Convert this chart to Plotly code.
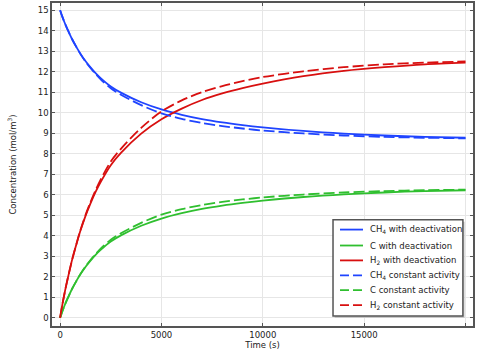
import plotly.graph_objects as go

# Time (s)
time_s = [0, 100, 200, 300, 400, 600, 800, 1000, 1250, 1500, 1750, 2000, 2500, 3000, 4000,
          5000, 6000, 7000, 8000, 9000, 10000, 12000, 14000, 16000, 18000, 20000]

# With deactivation (solid)
ch4_deact = [15, 14.71, 14.45, 14.21, 13.99, 13.57, 13.21, 12.88, 12.52, 12.21, 11.93, 11.69,
             11.28, 10.98, 10.51, 10.16, 9.90, 9.69, 9.53, 9.40, 9.29, 9.11, 8.98, 8.89, 8.82, 8.78]
c_deact = [0, 0.29, 0.55, 0.79, 1.01, 1.43, 1.79, 2.12, 2.48, 2.79, 3.07, 3.31,
           3.72, 4.02, 4.49, 4.84, 5.10, 5.31, 5.47, 5.60, 5.71, 5.89, 6.02, 6.11, 6.18, 6.22]
h2_deact = [0, 0.58, 1.10, 1.58, 2.02, 2.86, 3.58, 4.24, 4.96, 5.58, 6.14, 6.62,
            7.44, 8.04, 8.98, 9.68, 10.20, 10.62, 10.94, 11.20, 11.42, 11.78, 12.04, 12.22, 12.36, 12.44]

# Constant activity (dashed)
ch4_const = [15, 14.71, 14.45, 14.21, 13.99, 13.57, 13.21, 12.87, 12.50, 12.18, 11.89, 11.63,
             11.19, 10.88, 10.37, 9.97, 9.70, 9.50, 9.35, 9.23, 9.13, 8.99, 8.89, 8.82, 8.78, 8.75]
c_const = [0, 0.29, 0.55, 0.79, 1.01, 1.43, 1.79, 2.13, 2.50, 2.82, 3.11, 3.37,
           3.81, 4.12, 4.63, 5.03, 5.30, 5.50, 5.65, 5.77, 5.87, 6.01, 6.11, 6.18, 6.22, 6.25]
h2_const = [0, 0.58, 1.10, 1.58, 2.02, 2.86, 3.58, 4.26, 5.00, 5.64, 6.22, 6.74,
            7.62, 8.24, 9.26, 10.06, 10.60, 11.00, 11.30, 11.54, 11.74, 12.02, 12.22, 12.36, 12.44, 12.50]

x_ticks = [0, 5000, 10000, 15000]
x_ticktext = ["0", "5000", "10000", "15000"]
x_extra_grid = [20000]
y_ticks = list(range(0, 16))

legend_labels = [
    "CH<sub>4</sub> with deactivation",
    "C with deactivation",
    "H<sub>2</sub> with deactivation",
    "CH<sub>4</sub> constant activity",
    "C constant activity",
    "H<sub>2</sub> constant activity",
]

BLUE = "#1f44ff"
GREEN = "#2fbf2f"
RED = "#d80f0f"
FONT = "DejaVu Sans"
DASH = "11px,4px"

series = [
    (ch4_deact, BLUE, "solid"),
    (c_deact, GREEN, "solid"),
    (h2_deact, RED, "solid"),
    (ch4_const, BLUE, DASH),
    (c_const, GREEN, DASH),
    (h2_const, RED, DASH),
]

fig = go.Figure()
for label, (vals, color, dash) in zip(legend_labels, series):
    fig.add_trace(go.Scatter(
        x=time_s, y=vals, name=label, mode="lines", showlegend=False,
        line=dict(color=color, width=1.8, dash=dash, shape="spline", smoothing=0.8),
    ))

# ---- custom legend (paper coordinates) ----
box = dict(x0=0.6675, x1=0.976, y0=0.0308, y1=0.329)
shapes = [
    dict(type="rect", xref="paper", yref="paper",
         x0=box["x0"] + 0.004, x1=box["x1"] + 0.004, y0=box["y0"] - 0.006, y1=box["y1"] - 0.006,
         fillcolor="#c8c8c8", line=dict(width=0), layer="above"),
    dict(type="rect", xref="paper", yref="paper", **box,
         fillcolor="white", line=dict(color="#555555", width=1.5), layer="above"),
]
entry_y = [0.2985, 0.2492, 0.2031, 0.1569, 0.1108, 0.0646]
annotations = []
for label, (vals, color, dash), ey in zip(legend_labels, series, entry_y):
    shapes.append(dict(type="line", xref="paper", yref="paper",
                       x0=0.6841, x1=0.7387, y0=ey, y1=ey, layer="above",
                       line=dict(color=color, width=1.8, dash=("solid" if dash == "solid" else "9px,4px"))))
    annotations.append(dict(xref="paper", yref="paper", x=0.7506, y=ey,
                            xanchor="left", yanchor="middle", showarrow=False,
                            text=label, font=dict(family=FONT, size=8.5, color="#222222")))

axis_common = dict(
    showline=True, linecolor="#555555", linewidth=1.5, mirror="ticks",
    ticks="inside", ticklen=3, tickcolor="#555555",
    showgrid=True, gridcolor="#e6e6e6", gridwidth=1, zeroline=False,
    tickfont=dict(family=FONT, size=8.5, color="#222222"),
)

fig.update_layout(
    width=483, height=361,
    margin=dict(l=52, r=10, t=1, b=35),
    paper_bgcolor="white", plot_bgcolor="white",
    font=dict(family=FONT, size=8.5, color="#222222"),
    xaxis=dict(range=[-400, 20370], tickmode="array", tickvals=x_ticks, ticktext=x_ticktext,
               minor=dict(tickmode="array", tickvals=x_extra_grid, showgrid=True, gridcolor="#e6e6e6",
                          ticks="inside", ticklen=3, tickcolor="#555555"),
               title=dict(text="Time (s)", font=dict(family=FONT, size=8.5), standoff=2),
               **axis_common),
    yaxis=dict(range=[-0.4, 15.35], tickvals=y_ticks,
               title=dict(text="Concentration (mol/m<sup>3</sup>)",
                          font=dict(family=FONT, size=8.5), standoff=20),
               **axis_common),
    shapes=shapes,
    annotations=annotations,
    showlegend=False,
)

fig.write_html("out.html",
               config={"displayModeBar": False},
               post_script="document.body.style.margin='0';document.body.style.overflow='hidden';")
